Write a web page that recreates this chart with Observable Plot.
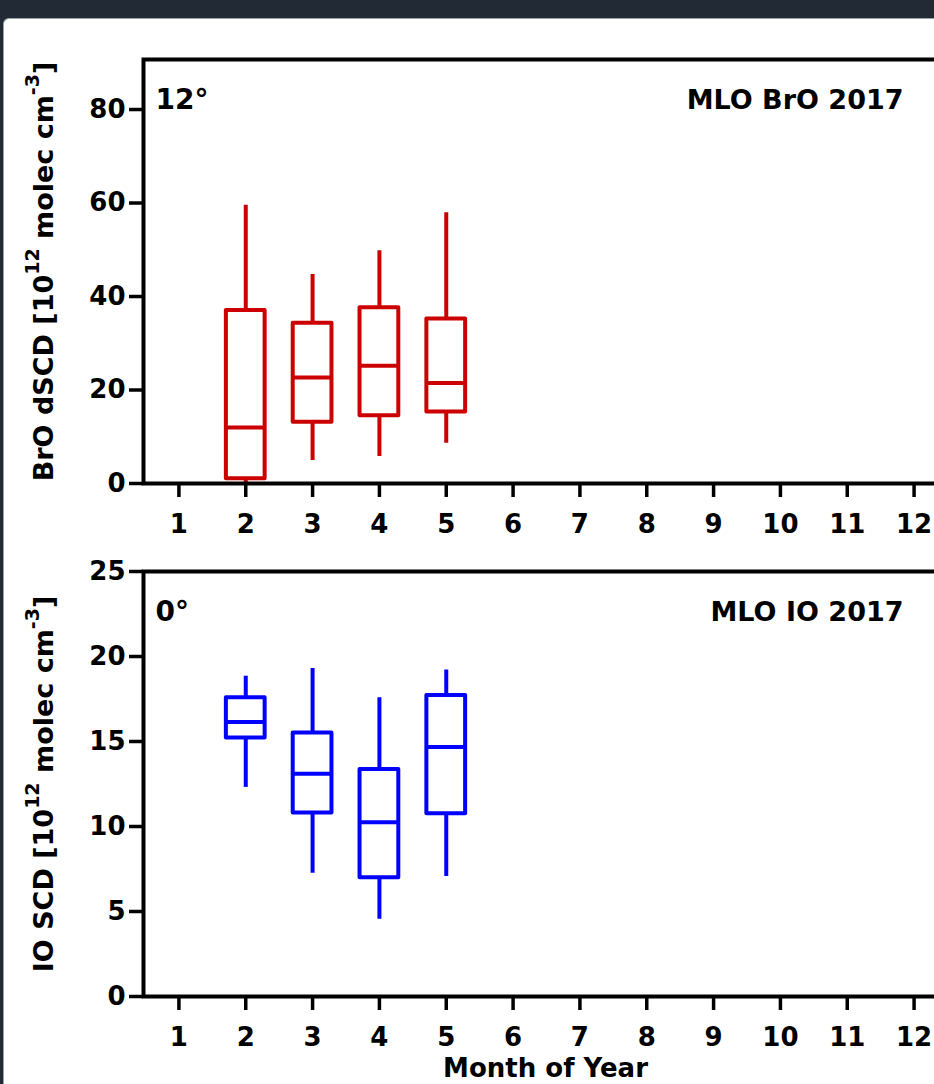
<!DOCTYPE html>
<html><head><meta charset="utf-8">
<script src="https://cdn.jsdelivr.net/npm/d3@7"></script>
<script src="https://cdn.jsdelivr.net/npm/@observablehq/plot@0.6"></script>
<style>
html,body{margin:0;padding:0;overflow:hidden;background:#212a35;width:934px;height:1084px;}
#card{position:absolute;left:3px;top:18px;width:980px;height:1100px;background:#fff;border-top-left-radius:6px;border-left:1px solid #9aa0a6;border-top:1px solid #9aa0a6;}
.panel{position:absolute;left:0;width:950px;}
.panel svg{max-width:none !important;overflow:visible;}
</style></head><body>
<div id="card"></div>
<div id="p1" class="panel" style="top:0px"></div>
<div id="p2" class="panel" style="top:540px"></div>
<script>
// ---- data ----
const months = [2, 3, 4, 5];
const monthTicks = [1, 2, 3, 4, 5, 6, 7, 8, 9, 10, 11, 12];

const broLow  = [0.0, 4.9, 5.8, 8.6];
const broQ1   = [1.0, 13.1, 14.5, 15.3];
const broMed  = [12.0, 22.7, 25.2, 21.5];
const broQ3   = [37.0, 34.3, 37.6, 35.2];
const broHigh = [59.5, 44.7, 49.8, 57.9];
const broTicks = [0, 20, 40, 60, 80];

const ioLow  = [12.3, 7.25, 4.55, 7.06];
const ioQ1   = [15.2, 10.8, 6.98, 10.75];
const ioMed  = [16.14, 13.1, 10.25, 14.67];
const ioQ3   = [17.57, 15.5, 13.35, 17.7];
const ioHigh = [18.84, 19.3, 17.57, 19.2];
const ioTicks = [0, 5, 10, 15, 20, 25];

const broLabel = "BrO dSCD [10^{12} molec cm^{-3}]";
const ioLabel  = "IO SCD [10^{12} molec cm^{-3}]";
const broTitle = "MLO BrO 2017";
const ioTitle  = "MLO IO 2017";
const broAngle = "12°";
const ioAngle  = "0°";
const xTitle   = "Month of Year";

const FONT = "'DejaVu Sans', Verdana, sans-serif";
const HALF = 0.29;

function plainLabel(s) { return s.replace(/\^\{([^}]*)\}/g, "$1"); }

function applySup(svg, raw) {
  const plain = plainLabel(raw);
  svg.querySelectorAll("text").forEach(t => {
    if (t.textContent === plain) {
      while (t.firstChild) t.removeChild(t.firstChild);
      const parts = raw.split(/(\^\{[^}]*\})/).filter(p => p.length);
      let raised = false;
      parts.forEach(p => {
        const ts = document.createElementNS("http://www.w3.org/2000/svg", "tspan");
        const sup = p.startsWith("^{");
        ts.textContent = sup ? p.slice(2, -1) : p;
        if (sup) { ts.setAttribute("font-size", "19"); ts.setAttribute("dy", "-14"); raised = true; }
        else if (raised) { ts.setAttribute("dy", "14"); raised = false; }
        t.appendChild(ts);
      });
    }
  });
}

function panel({low, q1, med, q3, high, color, yDomain, yTicks, yLabel, angle, title, height, marginTop, marginBottom, xLabel}) {
  const rows = months.map((m, i) => ({m, low: low[i], q1: q1[i], med: med[i], q3: q3[i], high: high[i]}));
  const marks = [
    Plot.ruleX(rows, {x: "m", y1: "low", y2: "high", stroke: color, strokeWidth: 4}),
    Plot.rect(rows, {x1: d => d.m - HALF, x2: d => d.m + HALF, y1: "q1", y2: "q3", fill: "white", stroke: color, strokeWidth: 4, strokeLinejoin: "round"}),
    Plot.ruleY(rows, {y: "med", x1: d => d.m - HALF, x2: d => d.m + HALF, stroke: color, strokeWidth: 4}),
    Plot.frame({stroke: "black", strokeWidth: 4}),
    Plot.axisX({ticks: monthTicks, tickFormat: d => String(d), tickSize: 14, tickPadding: 17, strokeWidth: 3.5, label: null, fontSize: 26}),
    Plot.axisY({ticks: yTicks, tickFormat: d => String(d), tickSize: 14, tickPadding: 4, strokeWidth: 3.5, label: null, fontSize: 26}),
    Plot.text([angle], {frameAnchor: "top-left", dx: 12, dy: 30, lineAnchor: "top", textAnchor: "start", fontSize: 28}),
    Plot.text([title], {frameAnchor: "top-right", dx: -44, dy: 30, lineAnchor: "top", textAnchor: "end", fontSize: 27}),
    Plot.text([plainLabel(yLabel)], {frameAnchor: "left", rotate: -90, dx: -91, lineAnchor: "bottom", textAnchor: "middle", fontSize: 27})
  ];
  if (xLabel) marks.push(Plot.text([xLabel], {frameAnchor: "bottom", dy: 62, lineAnchor: "top", fontSize: 26}));
  const svg = Plot.plot({
    width: 950, height, marginLeft: 143, marginRight: 3, marginTop, marginBottom,
    style: {fontFamily: FONT, fontWeight: "bold", fontSize: "26px", color: "#000", background: "transparent", maxWidth: "none", overflow: "visible"},
    x: {domain: [0.47, 12.5]},
    y: {domain: yDomain},
    marks
  });
  applySup(svg, yLabel);
  return svg;
}

document.getElementById("p1").appendChild(panel({
  low: broLow, q1: broQ1, med: broMed, q3: broQ3, high: broHigh, color: "#cc0000",
  yDomain: [0, 90.7], yTicks: broTicks, yLabel: broLabel, angle: broAngle, title: broTitle,
  height: 543, marginTop: 59, marginBottom: 60
}));
document.getElementById("p2").appendChild(panel({
  low: ioLow, q1: ioQ1, med: ioMed, q3: ioQ3, high: ioHigh, color: "#0000ff",
  yDomain: [0, 25], yTicks: ioTicks, yLabel: ioLabel, angle: ioAngle, title: ioTitle,
  height: 544, marginTop: 31, marginBottom: 88, xLabel: xTitle
}));
</script>
</body></html>
